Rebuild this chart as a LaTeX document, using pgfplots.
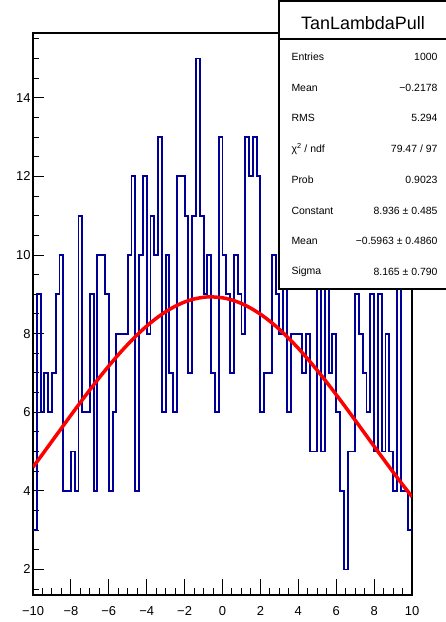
\documentclass[border=0pt]{standalone}
\usepackage{fontspec}
\setmainfont{Liberation Sans}
\usepackage{pgfplots}
\pgfplotsset{compat=1.18}
\definecolor{histblue}{RGB}{0,0,153}
\definecolor{fitred}{RGB}{255,0,0}
\begin{document}
\begin{tikzpicture}[x=1bp,y=1bp]
\path[use as bounding box] (-33,-27) rectangle (413,595);
\begin{axis}[at={(0,0)}, anchor=south west, scale only axis,
  width=379bp, height=562bp,
  xmin=-10, xmax=10, ymin=1.35, ymax=15.65,
  axis line style={line width=1.3bp},
  tick align=inside, xtick pos=bottom, ytick pos=left,
  xtick={-10,-8,...,10},
  xticklabels={−10,−8,−6,−4,−2,0,2,4,6,8,10},
  ytick={2,4,...,14},
  yticklabels={2,4,6,8,10,12,14},
  minor xtick={-10,-9.5,...,10},
  minor ytick={1.5,2,...,15.5},
  major tick length=11bp, minor tick length=6bp,
  major x tick style={/pgfplots/major tick length=16bp},
  minor x tick style={/pgfplots/minor tick length=7bp},
  tick style={line width=1bp, black},
  ticklabel style={font=\fontsize{13}{13}\selectfont},
  xticklabel style={yshift=-8bp},
  yticklabel style={xshift=1bp},
  clip=true]
\addplot[const plot mark left, histblue, line width=1.9bp] coordinates {
(-10.0,3) (-9.8,9) (-9.6,6) (-9.4,7) (-9.2,6) (-9.0,7) (-8.8,9) (-8.6,10) (-8.4,4) (-8.2,4)
(-8.0,5) (-7.8,4) (-7.6,11) (-7.4,6) (-7.2,6) (-7.0,9) (-6.8,4) (-6.6,10) (-6.4,10) (-6.2,9)
(-6.0,4) (-5.8,6) (-5.6,8) (-5.4,8) (-5.2,8) (-5.0,10) (-4.8,12) (-4.6,4) (-4.4,10) (-4.2,12)
(-4.0,8) (-3.8,11) (-3.6,10) (-3.4,13) (-3.2,6) (-3.0,10) (-2.8,7) (-2.6,6) (-2.4,12) (-2.2,12)
(-2.0,11) (-1.8,7) (-1.6,11) (-1.4,15) (-1.2,11) (-1.0,9) (-0.8,10) (-0.6,7) (-0.4,6) (-0.2,13)
(0.0,10) (0.2,9) (0.4,7) (0.6,10) (0.8,9) (1.0,8) (1.2,13) (1.4,12) (1.6,13) (1.8,12)
(2.0,6) (2.2,7) (2.4,7) (2.6,10) (2.8,9) (3.0,8) (3.2,11) (3.4,6) (3.6,8) (3.8,8)
(4.0,8) (4.2,7) (4.4,8) (4.6,5) (4.8,5) (5.0,10) (5.2,5) (5.4,10) (5.6,7) (5.8,8)
(6.0,6) (6.2,4) (6.4,2) (6.6,5) (6.8,5) (7.0,9) (7.2,8) (7.4,7) (7.6,6) (7.8,9)
(8.0,5) (8.2,9) (8.4,5) (8.6,8) (8.8,5) (9.0,4) (9.2,11) (9.4,4) (9.6,4) (9.8,3)
(10.0,3)
};
\addplot[fitred, line width=3.5bp, smooth] coordinates {
(-10,4.604) (-9.5,4.931) (-9,5.262) (-8.5,5.593) (-8,5.924) (-7.5,6.250) (-7,6.570)
(-6.5,6.881) (-6,7.178) (-5.5,7.462) (-5,7.726) (-4.5,7.971) (-4,8.193) (-3.5,8.388)
(-3,8.557) (-2.5,8.696) (-2,8.805) (-1.5,8.881) (-1,8.925) (-0.5963,8.936) (0,8.912)
(0.5,8.856) (1,8.767) (1.5,8.646) (2,8.495) (2.5,8.316) (3,8.110) (3.5,7.879) (4,7.627)
(4.5,7.354) (5,7.065) (5.5,6.762) (6,6.448) (6.5,6.125) (7,5.797) (7.5,5.466) (8,5.134)
(8.5,4.804) (9,4.479) (9.5,4.160) (10,3.850)
};
\end{axis}
% stat box
\draw[line width=1.3bp, fill=white] (246,306) rectangle (414,594);
\draw[line width=1.3bp] (246,556) -- (414,556);
\node[font=\fontsize{18}{18}\selectfont] at (330,572) {TanLambdaPull};
\begin{scope}[every node/.style={font=\fontsize{10.5}{10.5}\selectfont}]
\node[anchor=west] at (255,538) {Entries};   \node[anchor=east] at (408,538) {1000};
\node[anchor=west] at (255,507.3) {Mean};    \node[anchor=east] at (408,507.3) {−0.2178};
\node[anchor=west] at (255,476.6) {RMS};     \node[anchor=east] at (408,476.6) {5.294};
\node[anchor=west] at (255,445.9) {χ\textsuperscript{2} / ndf}; \node[anchor=east] at (408,445.9) {79.47 / 97};
\node[anchor=west] at (255,415.2) {Prob};    \node[anchor=east] at (408,415.2) {0.9023};
\node[anchor=west] at (255,384.5) {Constant}; \node[anchor=east] at (408,384.5) {8.936 ± 0.485};
\node[anchor=west] at (255,353.8) {Mean};    \node[anchor=east] at (408,353.8) {−0.5963 ± 0.4860};
\node[anchor=west] at (255,323.1) {Sigma};   \node[anchor=east] at (408,323.1) {8.165 ± 0.790};
\end{scope}
\end{tikzpicture}
\end{document}
